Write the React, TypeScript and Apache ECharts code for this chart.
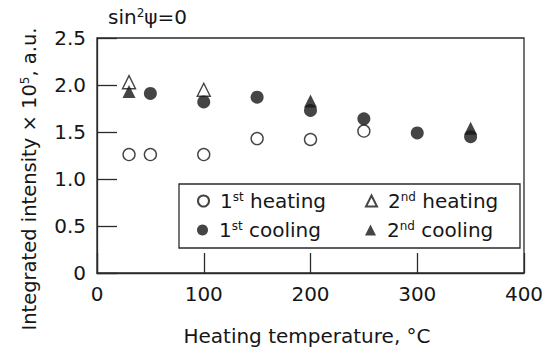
import React, { useEffect, useRef } from "react";
import * as echarts from "echarts";

const heating1: [number, number][] = [
  [30, 1.26], [50, 1.26], [100, 1.26], [150, 1.43], [200, 1.42], [250, 1.51],
];
const heating2: [number, number][] = [
  [30, 2.03], [100, 1.95],
];
const cooling1: [number, number][] = [
  [50, 1.91], [100, 1.82], [150, 1.87], [200, 1.73], [250, 1.64], [300, 1.49], [350, 1.45],
];
const cooling2: [number, number][] = [
  [30, 1.93], [200, 1.83], [350, 1.54],
];
const seriesNames = ["1st heating", "2nd heating", "1st cooling", "2nd cooling"];
const legendLabels: Record<string, string> = {
  "1st heating": "1{s|st} heating",
  "2nd heating": "2{s|nd} heating",
  "1st cooling": "1{s|st} cooling",
  "2nd cooling": "2{s|nd} cooling",
};
const xTicks = [0, 100, 200, 300, 400];
const yTicks = [0, 0.5, 1.0, 1.5, 2.0, 2.5];

const FONT = "DejaVu Sans";
const INK = "#161616";
const LINE = "#2a2a2a";
const FS = 20;

export default function App() {
  const ref = useRef<HTMLDivElement>(null);
  useEffect(() => {
    if (!ref.current) return;
    const chart = echarts.init(ref.current, null, { renderer: "svg" });
    const supRich = { s: { fontSize: 12, fontFamily: FONT, color: INK, verticalAlign: "top", lineHeight: 12, padding: [0, 0, 8, 0] } };
    const legendBase = {
      orient: "horizontal",
      padding: 0,
      itemWidth: 11,
      itemHeight: 11,
      selectedMode: false,
      textStyle: { fontFamily: FONT, fontSize: FS, color: INK, rich: supRich, padding: [0, 0, 0, 6] },
      formatter: (n: string) => legendLabels[n],
    };
    chart.setOption({
      animation: false,
      grid: {
        left: 97, right: 29, top: 38, bottom: 78,
        show: true, borderColor: LINE, borderWidth: 1.3, backgroundColor: "transparent",
      },
      xAxis: {
        type: "value",
        min: xTicks[0], max: xTicks[xTicks.length - 1], interval: 100,
        axisLine: { show: true, lineStyle: { color: LINE, width: 1.3 } },
        axisTick: { show: true, inside: true, length: 20, lineStyle: { color: LINE, width: 1.3 } },
        splitLine: { show: false },
        axisLabel: { fontFamily: FONT, fontSize: FS, color: INK, margin: 11 },
      },
      yAxis: {
        type: "value",
        min: yTicks[0], max: yTicks[yTicks.length - 1], interval: 0.5,
        axisLine: { show: true, lineStyle: { color: LINE, width: 1.3 } },
        axisTick: { show: true, inside: true, length: 20, lineStyle: { color: LINE, width: 1.3 } },
        splitLine: { show: false },
        axisLabel: {
          fontFamily: FONT, fontSize: FS, color: INK, margin: 11,
          formatter: (v: number) => (v === 0 ? "0" : v.toFixed(1)),
        },
      },
      legend: [
        { ...legendBase, data: ["1st heating"], left: 197, top: 191 },
        { ...legendBase, data: ["1st cooling"], left: 197, top: 220 },
        { ...legendBase, data: ["2nd heating"], left: 365, top: 191 },
        { ...legendBase, data: ["2nd cooling"], left: 365, top: 220 },
      ],
      graphic: [
        {
          type: "rect",
          shape: { x: 179, y: 184, width: 341, height: 64 },
          style: { fill: "none", stroke: LINE, lineWidth: 1.3 },
          z: 10,
        },
        {
          type: "text",
          x: 108, y: 17,
          style: {
            text: "sin{s|2}ψ=0",
            fontFamily: FONT, fontSize: FS, fill: INK,
            verticalAlign: "middle", align: "left",
            rich: supRich,
          },
        },
        {
          type: "text",
          x: 29, y: 179,
          rotation: Math.PI / 2,
          style: {
            text: "Integrated intensity × 10{s|5}, a.u.",
            fontFamily: FONT, fontSize: 19.5, fill: INK,
            verticalAlign: "middle", align: "center",
            rich: supRich,
          },
        },
        {
          type: "text",
          x: 307, y: 336,
          style: {
            text: "Heating temperature, °C",
            fontFamily: FONT, fontSize: FS, fill: INK,
            verticalAlign: "middle", align: "center",
          },
        },
      ],
      series: [
        {
          name: seriesNames[0], type: "scatter", data: heating1, symbol: "circle", symbolSize: 12,
          itemStyle: { color: "#ffffff", borderColor: INK, borderWidth: 1.4 }, z: 2,
        },
        {
          name: seriesNames[1], type: "scatter", data: heating2, symbol: "triangle", symbolSize: 13,
          itemStyle: { color: "#ffffff", borderColor: INK, borderWidth: 1.4 }, z: 2,
        },
        {
          name: seriesNames[2], type: "scatter", data: cooling1, symbol: "circle", symbolSize: 13,
          itemStyle: { color: INK, borderColor: INK, borderWidth: 0 }, z: 3,
        },
        {
          name: seriesNames[3], type: "scatter", data: cooling2, symbol: "triangle", symbolSize: 13,
          itemStyle: { color: INK, borderColor: INK, borderWidth: 0 }, z: 3,
        },
      ],
    });
    return () => chart.dispose();
  }, []);
  return <div ref={ref} style={{ width: 553, height: 351, position: "absolute", left: 0, top: 0, background: "#fff" }} />;
}
